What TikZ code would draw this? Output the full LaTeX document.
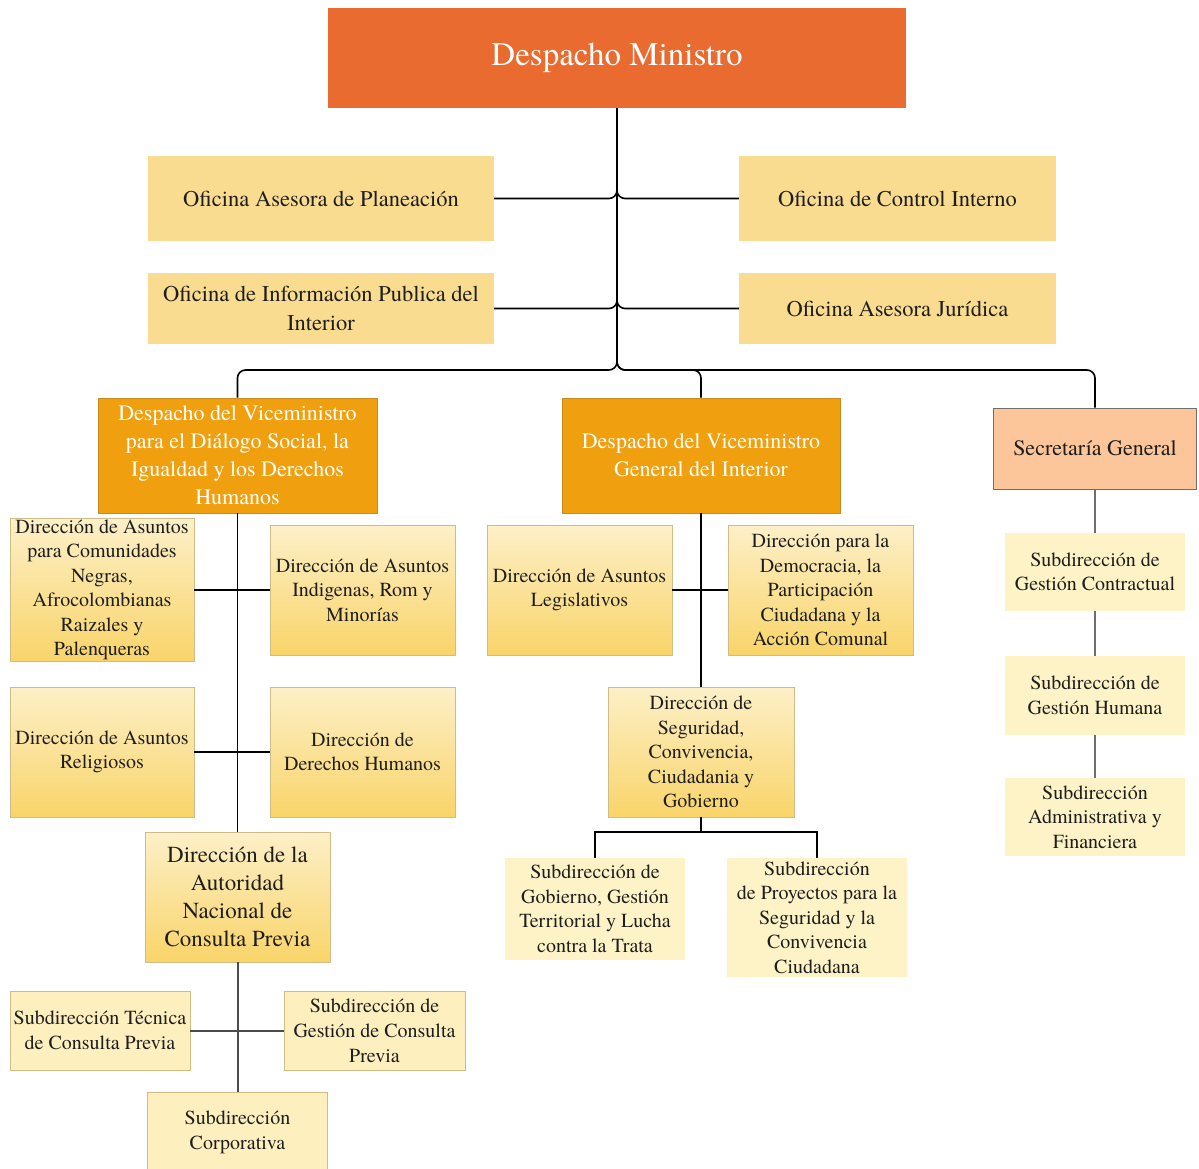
\documentclass[tikz,border=0pt]{standalone}
\usepackage{fontspec}
\setmainfont{texgyretermes}[Extension=.otf,UprightFont=*-regular,BoldFont=*-bold,ItalicFont=*-italic,BoldItalicFont=*-bolditalic]
\definecolor{cMin}{HTML}{E96B2F}
\definecolor{cOfi}{HTML}{F9DC8F}
\definecolor{cVice}{HTML}{F0A00E}
\definecolor{cViceB}{HTML}{C98A1E}
\definecolor{cSec}{HTML}{FCC69A}
\definecolor{cSecB}{HTML}{6E6E6E}
\definecolor{cGt}{HTML}{FDF0C8}
\definecolor{cGb}{HTML}{F9D469}
\definecolor{cDirB}{HTML}{D2BC86}
\definecolor{cSub}{HTML}{FEEFBF}
\definecolor{cSubL}{HTML}{FEF3C6}
\definecolor{txt}{HTML}{1E1E1E}
\begin{document}
\begin{tikzpicture}[x=1pt,y=-1pt,
  wh/.style 2 args={minimum width=#1pt,minimum height=#2pt},
  box/.style={rectangle,inner sep=1pt,align=center,text=txt},
  ministro/.style={box,fill=cMin,text=white,font=\fontsize{33}{40}\selectfont},
  ofi/.style={box,fill=cOfi,font=\fontsize{22.5}{29}\selectfont},
  vice/.style={box,fill=cVice,draw=cViceB,line width=0.8pt,text=white,font=\fontsize{22}{28}\selectfont},
  sec/.style={box,fill=cSec,draw=cSecB,line width=1pt,font=\fontsize{22}{28}\selectfont},
  dir/.style={box,top color=cGt,bottom color=cGb,draw=cDirB,line width=0.8pt,font=\fontsize{20}{24.5}\selectfont},
  dirbig/.style={dir,font=\fontsize{23}{28}\selectfont},
  subb/.style={box,fill=cSub,draw=cDirB,line width=0.8pt,font=\fontsize{20}{25}\selectfont},
  subl/.style={box,fill=cSubL,font=\fontsize{20}{24.5}\selectfont},
  conn/.style={draw=black,line width=1.6pt},
  gconn/.style={draw=black!70,line width=2pt},
  rconn/.style={draw=cSecB,line width=2.4pt}
]
\useasboundingbox[fill=white] (0,0) rectangle (1199,1169);

% top level
\node[ministro,wh={578}{100}] (DM) at (617,58) {Despacho Ministro};
\node[ofi,wh={346}{85}] (OAP) at (321,198.5) {Oficina Asesora de Planeación};
\node[ofi,wh={317}{85}] (OCI) at (897.5,198.5) {Oficina de Control Interno};
\node[ofi,wh={346}{71}] (OIP) at (321,308.5) {Oficina de Información Publica del\\Interior};
\node[ofi,wh={317}{71}] (OAJ) at (897.5,308.5) {Oficina Asesora Jurídica};

% vice ministries
\node[vice,wh={279}{115}] (VL) at (237.5,455.5) {Despacho del Viceministro\\para el Diálogo Social, la\\Igualdad y los Derechos\\Humanos};
\node[vice,wh={278}{115}] (VM) at (701,455.5) {Despacho del Viceministro\\General del Interior};
\node[sec,wh={203}{81}] (SG) at (1095,448.5) {Secretaría General};

% left column
\node[dir,wh={184}{132}] (N1) at (102,590) {Dirección de Asuntos\\para Comunidades\\Negras,\\Afrocolombianas\\Raizales y\\Palenqueras};
\node[dir,wh={185}{130}] (N2) at (362.5,590) {Dirección de Asuntos\\Indigenas, Rom y\\Minorías};
\node[dir,wh={184}{130}] (N3) at (102,752) {Dirección de Asuntos\\Religiosos};
\node[dir,wh={185}{130}] (N4) at (362.5,752) {Dirección de\\Derechos Humanos};
\node[dirbig,wh={185}{130}] (DAC) at (237.5,897) {Dirección de la\\Autoridad\\Nacional de\\Consulta Previa};
\node[subb,wh={180}{79}] (ST) at (100,1030.5) {Subdirección Técnica\\de Consulta Previa};
\node[subb,wh={181}{79}] (SGC) at (374.5,1030.5) {Subdirección de\\Gestión de Consulta\\Previa};
\node[subb,wh={180}{80}] (SC) at (237.5,1132) {Subdirección\\Corporativa};

% middle column
\node[dir,wh={185}{130}] (L1) at (579.5,590) {Dirección de Asuntos\\Legislativos};
\node[dir,wh={185}{130}] (L2) at (820.5,590) {Dirección para la\\Democracia, la\\Participación\\Ciudadana y la\\Acción Comunal};
\node[dir,wh={186}{130}] (DS) at (701,752) {Dirección de\\Seguridad,\\Convivencia,\\Ciudadania y\\Gobierno};
\node[subl,wh={180}{102}] (S1) at (595,909) {Subdirección de\\Gobierno, Gestión\\Territorial y Lucha\\contra la Trata};
\node[subl,wh={180}{119}] (S2) at (817,917.5) {Subdirección\\de Proyectos para la\\Seguridad y la\\Convivencia\\Ciudadana};

% right column
\node[subl,wh={180}{78}] (R1) at (1095,572) {Subdirección de\\Gestión Contractual};
\node[subl,wh={180}{79}] (R2) at (1095,695.5) {Subdirección de\\Gestión Humana};
\node[subl,wh={180}{78}] (R3) at (1095,817) {Subdirección\\Administrativa y\\Financiera};

% connectors: top
\coordinate (J) at (617,370);
\draw[conn,rounded corners=8pt] (DM.south) |- (OAP.east);
\draw[conn,rounded corners=8pt] (DM.south) |- (OCI.west);
\draw[conn,rounded corners=8pt] (DM.south) |- (OIP.east);
\draw[conn,rounded corners=8pt] (DM.south) |- (OAJ.west);
\draw[conn,rounded corners=8pt] (DM.south) -- (J) -| (VL.north);
\draw[conn,rounded corners=8pt] (DM.south) -- (J) -| (VM.north);
\draw[conn,rounded corners=8pt] (DM.south) -- (J) -| (SG.north);

% left column
\draw[conn] (VL.south) -- (DAC.north);
\draw[conn] (N1.east) -- (N2.west);
\draw[conn] (N3.east) -- (N4.west);
\draw[gconn] (DAC.south) -- (SC.north);
\draw[gconn] (ST.east) -- (SGC.west);

% middle column
\draw[conn] (VM.south) -- (DS.north);
\draw[conn] (L1.east) -- (L2.west);
\coordinate (K) at (701,832);
\draw[conn] (DS.south) -- (K) -| (S1.north);
\draw[conn] (K) -| (S2.north);

% right column
\draw[rconn] (SG.south) -- (R1.north);
\draw[rconn] (R1.south) -- (R2.north);
\draw[rconn] (R2.south) -- (R3.north);
\end{tikzpicture}
\end{document}
